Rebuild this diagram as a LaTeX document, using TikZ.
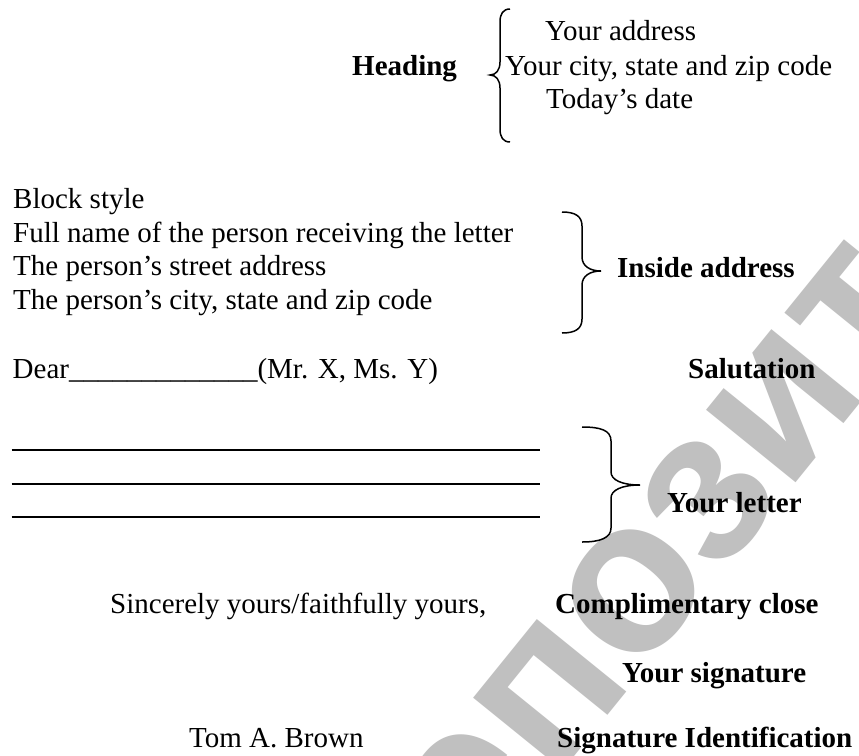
\documentclass[tikz,border=0pt]{standalone}
\usepackage{fontspec}
\setmainfont{Liberation Serif}
\newfontfamily\wmfont{Liberation Sans}
\definecolor{wmgray}{RGB}{192,192,192}

\begin{document}
\begin{tikzpicture}[x=1pt, y=-1pt,
    txt/.style={anchor=base west, inner sep=0pt, font=\fontsize{29}{34}\selectfont},
    lbl/.style={txt, font=\fontsize{29}{34}\selectfont\bfseries},
    wm/.style={anchor=base west, inner sep=0pt, text=wmgray, font=\wmfont\bfseries\fontsize{218}{218}\selectfont},
    bracket/.style={line width=1.5pt},
    ruleline/.style={line width=1.6pt}]

        \useasboundingbox[fill=white] (0,0) rectangle (859,755);

        % watermark
        \begin{scope}
            \clip (0,0) rectangle (859,755);
            \node[wm, rotate=51] (wmark) at (393,980) {репозиторий};
        \end{scope}

        % heading
        \node[lbl] (heading) at (352,75) {Heading};
        \node[txt] (addr) at (545,40) {Your address};
        \node[txt] (city) at (505,75) {Your city, state and zip code};
        \node[txt] (date) at (546,108) {Today’s date};
        \draw[bracket] (510,9) .. controls (503,9) and (500,14) .. (500,22) -- (500,62)
            .. controls (500,70) and (496,75) .. (490,75)
            .. controls (496,75) and (500,80) .. (500,88) -- (500,129)
            .. controls (500,137) and (503,142) .. (510,142);

        % inside address
        \node[txt] (block) at (13,208.5) {Block style};
        \node[txt] (fullname) at (13,242) {Full name of the person receiving the letter};
        \node[txt] (street) at (13,275.5) {The person’s street address};
        \node[txt] (pcity) at (13,309) {The person’s city, state and zip code};
        \draw[bracket] (562,212) .. controls (575,212) and (582,216) .. (582,226) -- (582,257)
            .. controls (582,266) and (590,271) .. (601,271)
            .. controls (590,271) and (582,276) .. (582,285) -- (582,319)
            .. controls (582,329) and (575,333) .. (562,333);
        \node[lbl] (inside) at (617,277) {Inside address};

        % salutation
        \node[txt] (dear) at (12.5,378) {Dear\_\_\_\_\_\_\_\_\_\_\_\_\_(Mr. X, Ms. Y)};
        \node[lbl] (salut) at (688,378) {Salutation};

        % body of the letter
        \foreach \y in {450,484,517}
            \draw[ruleline] (11.5,\y) -- (540,\y);
        \draw[bracket] (582,427) .. controls (600,427) and (611,430) .. (611,441) -- (611,472)
            .. controls (611,480) and (622,485) .. (640,485)
            .. controls (622,485) and (611,490) .. (611,498) -- (611,528)
            .. controls (611,538) and (600,542) .. (582,542);
        \node[lbl] (letter) at (667,512) {Your letter};

        % closing
        \node[txt] (sincere) at (110,613) {Sincerely yours/faithfully yours,};
        \node[lbl] (compl) at (555,613) {Complimentary close};
        \node[lbl] (sign) at (622,682) {Your signature};
        \node[txt] (tom) at (189,747) {Tom A. Brown};
        \node[lbl] (signid) at (557,747) {Signature Identification};

    \end{tikzpicture}
\end{document}
